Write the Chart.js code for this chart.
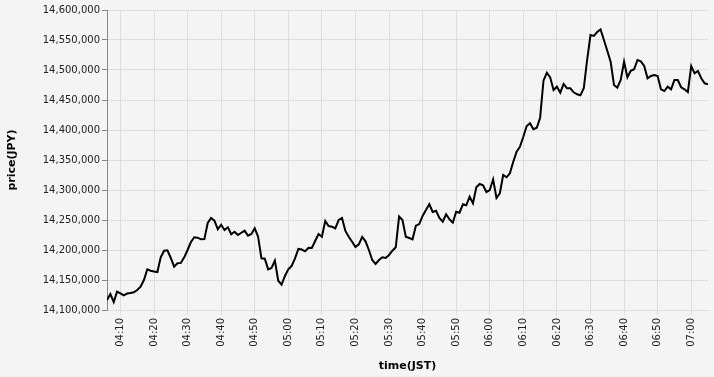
<!DOCTYPE html>
<html><head><meta charset="utf-8">
<script src="https://cdn.jsdelivr.net/npm/chart.js@4"></script>
<style>html,body{margin:0;padding:0;background:#f4f4f4;}#wrap{width:714px;height:377px;position:relative}</style>
</head><body><div id="wrap"><canvas id="c" width="714" height="377"></canvas></div>
<script>
const times = [
"04:06","04:07","04:08","04:09","04:10","04:11","04:12","04:13","04:14","04:15",
"04:16","04:17","04:18","04:19","04:20","04:21","04:22","04:23","04:24","04:25",
"04:26","04:27","04:28","04:29","04:30","04:31","04:32","04:33","04:34","04:35",
"04:36","04:37","04:38","04:39","04:40","04:41","04:42","04:43","04:44","04:45",
"04:46","04:47","04:48","04:49","04:50","04:51","04:52","04:53","04:54","04:55",
"04:56","04:57","04:58","04:59","05:00","05:01","05:02","05:03","05:04","05:05",
"05:06","05:07","05:08","05:09","05:10","05:11","05:12","05:13","05:14","05:15",
"05:16","05:17","05:18","05:19","05:20","05:21","05:22","05:23","05:24","05:25",
"05:26","05:27","05:28","05:29","05:30","05:31","05:32","05:33","05:34","05:35",
"05:36","05:37","05:38","05:39","05:40","05:41","05:42","05:43","05:44","05:45",
"05:46","05:47","05:48","05:49","05:50","05:51","05:52","05:53","05:54","05:55",
"05:56","05:57","05:58","05:59","06:00","06:01","06:02","06:03","06:04","06:05",
"06:06","06:07","06:08","06:09","06:10","06:11","06:12","06:13","06:14","06:15",
"06:16","06:17","06:18","06:19","06:20","06:21","06:22","06:23","06:24","06:25",
"06:26","06:27","06:28","06:29","06:30","06:31","06:32","06:33","06:34","06:35",
"06:36","06:37","06:38","06:39","06:40","06:41","06:42","06:43","06:44","06:45",
"06:46","06:47","06:48","06:49","06:50","06:51","06:52","06:53","06:54","06:55",
"06:56","06:57","06:58","06:59","07:00","07:01","07:02","07:03","07:04","07:05"
];
const prices = [
14116700,14126700,14113300,14130500,14127800,14124500,14127500,14128300,14129500,14133300,
14138800,14150000,14167800,14165500,14164200,14163300,14187800,14198800,14199500,14186700,
14172200,14177800,14178500,14187800,14200000,14213300,14221200,14220500,14217800,14218200,
14245000,14253300,14248800,14234500,14242200,14233300,14237800,14226200,14230500,14225000,
14228800,14232200,14223800,14226700,14236200,14222200,14186200,14185500,14167800,14170000,
14182200,14148800,14142200,14156700,14167800,14173300,14186200,14201700,14200800,14197800,
14203800,14203300,14215000,14226700,14222200,14248300,14240000,14238800,14236200,14250000,
14253300,14231700,14222200,14213800,14205000,14209500,14221700,14214500,14200000,14183300,
14176700,14183300,14187800,14186700,14191700,14198800,14204500,14255800,14250000,14222200,
14220000,14217800,14240500,14243300,14256700,14266700,14276200,14263300,14265500,14253300,
14247200,14259500,14251200,14245500,14263800,14262200,14276200,14274500,14288800,14277800,
14304500,14310000,14307800,14296700,14300000,14317800,14286700,14294500,14325000,14321200,
14327800,14347200,14363800,14372200,14388800,14406700,14411200,14401200,14403800,14420500,
14482200,14495500,14487800,14466700,14472200,14462200,14476700,14469500,14469500,14462800,
14459500,14457800,14469500,14516700,14558300,14556700,14563300,14567500,14550000,14532200,
14513800,14475000,14470500,14483300,14513800,14487800,14498800,14501200,14516700,14514500,
14506700,14486200,14490000,14491700,14490000,14467800,14465000,14472200,14467800,14483300,
14483300,14471200,14467800,14463300,14506700,14494500,14498300,14486200,14477800,14476200
];
const tickLabels = ["04:10","04:20","04:30","04:40","04:50","05:00","05:10","05:20","05:30",
  "05:40","05:50","06:00","06:10","06:20","06:30","06:40","06:50","07:00"];
const yMin = 14100000, yMax = 14600000, yStep = 50000;

const toMin = s => { const p = s.split(':').map(Number); return p[0]*60 + p[1]; };
const fmt = v => String(Math.floor(v/60)).padStart(2,'0') + ':' + String(v%60).padStart(2,'0');
const FONT = 'DejaVu Sans, sans-serif';

new Chart(document.getElementById('c').getContext('2d'), {
  type: 'line',
  data: { datasets: [{
    data: times.map((t,i) => ({x: toMin(t), y: prices[i]})),
    borderColor: '#000', borderWidth: 2, pointRadius: 0, tension: 0, fill: false
  }]},
  options: {
    responsive: false, animation: false,
    plugins: { legend: {display: false}, tooltip: {enabled: false} },
    layout: { padding: {top: 10, right: 6, left: 0, bottom: 0} },
    scales: {
      x: {
        type: 'linear', min: toMin(times[0]), max: toMin(times[times.length-1]),
        afterBuildTicks: s => { s.ticks = tickLabels.map(l => ({value: toMin(l)})); },
        afterFit: s => { s.height = 67; },
        ticks: { callback: v => fmt(v), minRotation: 90, maxRotation: 90, autoSkip: false, padding: 3,
                 color: '#222', font: {family: FONT, size: 10} },
        grid: { color: '#ddd', tickLength: 5, tickColor: '#ddd' },
        border: { color: '#ddd' },
        title: { display: true, text: 'time(JST)', color: '#000',
                 font: {family: FONT, size: 11, weight: 'bold'}, padding: {top: 4, bottom: 4} }
      },
      y: {
        min: yMin, max: yMax,
        afterFit: s => { s.width = 107; },
        ticks: { stepSize: yStep, callback: v => v.toLocaleString('en-US'), padding: 2,
                 color: '#222', font: {family: FONT, size: 10} },
        grid: { color: '#ddd', tickLength: 5, tickColor: '#888' },
        border: { color: '#888' },
        title: { display: true, text: 'price(JPY)', color: '#000',
                 font: {family: FONT, size: 11, weight: 'bold'}, padding: {top: 6, bottom: 4} }
      }
    }
  }
});
</script>
</body></html>
